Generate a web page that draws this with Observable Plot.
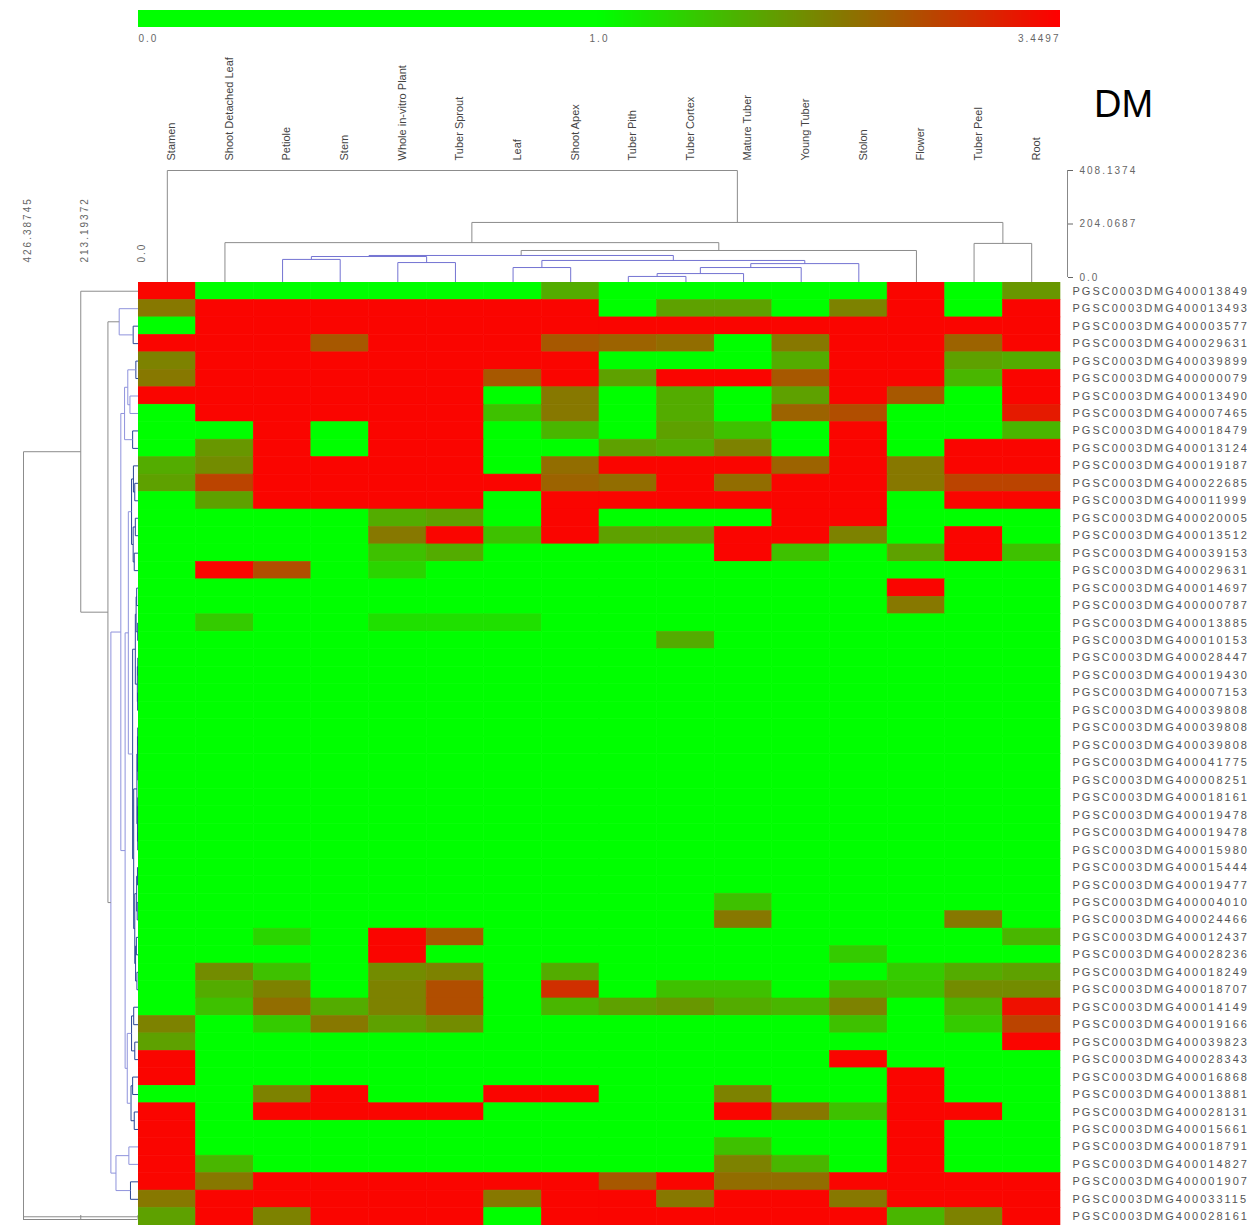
<!DOCTYPE html>
<html><head><meta charset="utf-8">
<script src="https://cdn.jsdelivr.net/npm/d3@7"></script>
<script src="https://cdn.jsdelivr.net/npm/@observablehq/plot@0.6"></script>
<style>
body{margin:0;background:#fff;}
#chart{position:relative;width:1260px;height:1228px;overflow:hidden;background:#fff;font-family:"Liberation Sans",Arial,sans-serif;}
#chart > div{position:absolute;}
#chart svg{background:transparent;max-width:none;}
.heat g[aria-label="y-axis tick label"] text{letter-spacing:2px;}
.topd g[aria-label="y-axis tick label"] text{letter-spacing:2px;}
.leftd g[aria-label="text"] text{letter-spacing:2px;}
.leg .tick text{letter-spacing:2px;}
.leg .tick line{display:none;}
</style></head><body><div id="chart"></div>
<script>
const columns = ["Stamen","Shoot Detached Leaf","Petiole","Stem","Whole in-vitro Plant","Tuber Sprout","Leaf","Shoot Apex","Tuber Pith","Tuber Cortex","Mature Tuber","Young Tuber","Stolon","Flower","Tuber Peel","Root"];

const rowLabels = [
"PGSC0003DMG400013849","PGSC0003DMG400013493","PGSC0003DMG400003577","PGSC0003DMG400029631","PGSC0003DMG400039899",
"PGSC0003DMG400000079","PGSC0003DMG400013490","PGSC0003DMG400007465","PGSC0003DMG400018479","PGSC0003DMG400013124",
"PGSC0003DMG400019187","PGSC0003DMG400022685","PGSC0003DMG400011999","PGSC0003DMG400020005","PGSC0003DMG400013512",
"PGSC0003DMG400039153","PGSC0003DMG400029631","PGSC0003DMG400014697","PGSC0003DMG400000787","PGSC0003DMG400013885",
"PGSC0003DMG400010153","PGSC0003DMG400028447","PGSC0003DMG400019430","PGSC0003DMG400007153","PGSC0003DMG400039808",
"PGSC0003DMG400039808","PGSC0003DMG400039808","PGSC0003DMG400041775","PGSC0003DMG400008251","PGSC0003DMG400018161",
"PGSC0003DMG400019478","PGSC0003DMG400019478","PGSC0003DMG400015980","PGSC0003DMG400015444","PGSC0003DMG400019477",
"PGSC0003DMG400004010","PGSC0003DMG400024466","PGSC0003DMG400012437","PGSC0003DMG400028236","PGSC0003DMG400018249",
"PGSC0003DMG400018707","PGSC0003DMG400014149","PGSC0003DMG400019166","PGSC0003DMG400039823","PGSC0003DMG400028343",
"PGSC0003DMG400016868","PGSC0003DMG400013881","PGSC0003DMG400028131","PGSC0003DMG400015661","PGSC0003DMG400018791",
"PGSC0003DMG400014827","PGSC0003DMG400001907","PGSC0003DMG400033115","PGSC0003DMG400028161"];

// expression values, one row per gene, columns in the order of `columns`
const values = [
[3.4,0.4,0.4,0.4,0.4,0.4,0.4,1.8,0.4,0.4,0.4,0.4,0.4,3.4,0.4,2.0],
[2.3,3.4,3.4,3.4,3.4,3.4,3.4,3.4,0.4,1.9,1.9,0.4,2.2,3.4,0.4,3.4],
[0.4,3.4,3.4,3.4,3.4,3.4,3.4,3.4,3.4,3.4,3.4,3.4,3.4,3.4,3.4,3.4],
[3.4,3.4,3.4,2.6,3.4,3.4,3.4,2.6,2.5,2.4,0.4,2.3,3.4,3.4,2.5,3.4],
[2.2,3.4,3.4,3.4,3.4,3.4,3.4,3.4,0.4,0.4,0.4,1.8,3.4,3.4,1.9,1.8],
[2.3,3.4,3.4,3.4,3.4,3.4,2.6,3.4,1.9,3.4,3.4,2.6,3.4,3.4,1.7,3.4],
[3.4,3.4,3.4,3.4,3.4,3.4,0.4,2.3,0.4,1.8,0.4,1.9,3.4,2.6,0.4,3.4],
[0.4,3.4,3.4,3.4,3.4,3.4,1.6,2.3,0.4,1.8,0.4,2.5,2.7,0.4,0.4,3.2],
[0.4,0.4,3.4,0.4,3.4,3.4,0.4,1.7,0.4,1.9,1.6,0.4,3.4,0.4,0.4,1.7],
[0.4,2.0,3.4,0.4,3.4,3.4,0.4,0.4,1.9,1.8,2.2,0.4,3.4,0.4,3.4,3.4],
[1.8,2.1,3.4,3.4,3.4,3.4,0.4,2.4,3.4,3.4,3.4,2.5,3.4,2.3,3.4,3.4],
[1.9,2.8,3.4,3.4,3.4,3.4,3.4,2.5,2.4,3.4,2.4,3.4,3.4,2.3,2.8,2.8],
[0.4,1.9,3.4,3.4,3.4,3.4,0.4,3.4,3.4,3.4,3.4,3.4,3.4,0.4,3.4,3.4],
[0.4,0.4,0.4,0.4,1.8,1.9,0.4,3.4,0.4,0.4,0.4,3.4,3.4,0.4,0.4,0.4],
[0.4,0.4,0.4,0.4,2.3,3.4,1.6,3.4,1.9,1.9,3.4,3.4,2.2,0.4,3.4,0.4],
[0.4,0.4,0.4,0.4,1.6,1.8,0.4,0.4,0.4,0.4,3.4,1.6,0.4,1.9,3.4,1.6],
[0.4,3.4,2.7,0.4,1.4,0.4,0.4,0.4,0.4,0.4,0.4,0.4,0.4,0.4,0.4,0.4],
[0.4,0.4,0.4,0.4,0.4,0.4,0.4,0.4,0.4,0.4,0.4,0.4,0.4,3.4,0.4,0.4],
[0.4,0.4,0.4,0.4,0.4,0.4,0.4,0.4,0.4,0.4,0.4,0.4,0.4,2.3,0.4,0.4],
[0.4,1.5,0.4,0.4,1.3,1.3,1.3,0.4,0.4,0.4,0.4,0.4,0.4,0.4,0.4,0.4],
[0.4,0.4,0.4,0.4,0.4,0.4,0.4,0.4,0.4,1.8,0.4,0.4,0.4,0.4,0.4,0.4],
[0.4,0.4,0.4,0.4,0.4,0.4,0.4,0.4,0.4,0.4,0.4,0.4,0.4,0.4,0.4,0.4],
[0.4,0.4,0.4,0.4,0.4,0.4,0.4,0.4,0.4,0.4,0.4,0.4,0.4,0.4,0.4,0.4],
[0.4,0.4,0.4,0.4,0.4,0.4,0.4,0.4,0.4,0.4,0.4,0.4,0.4,0.4,0.4,0.4],
[0.4,0.4,0.4,0.4,0.4,0.4,0.4,0.4,0.4,0.4,0.4,0.4,0.4,0.4,0.4,0.4],
[0.4,0.4,0.4,0.4,0.4,0.4,0.4,0.4,0.4,0.4,0.4,0.4,0.4,0.4,0.4,0.4],
[0.4,0.4,0.4,0.4,0.4,0.4,0.4,0.4,0.4,0.4,0.4,0.4,0.4,0.4,0.4,0.4],
[0.4,0.4,0.4,0.4,0.4,0.4,0.4,0.4,0.4,0.4,0.4,0.4,0.4,0.4,0.4,0.4],
[0.4,0.4,0.4,0.4,0.4,0.4,0.4,0.4,0.4,0.4,0.4,0.4,0.4,0.4,0.4,0.4],
[0.4,0.4,0.4,0.4,0.4,0.4,0.4,0.4,0.4,0.4,0.4,0.4,0.4,0.4,0.4,0.4],
[0.4,0.4,0.4,0.4,0.4,0.4,0.4,0.4,0.4,0.4,0.4,0.4,0.4,0.4,0.4,0.4],
[0.4,0.4,0.4,0.4,0.4,0.4,0.4,0.4,0.4,0.4,0.4,0.4,0.4,0.4,0.4,0.4],
[0.4,0.4,0.4,0.4,0.4,0.4,0.4,0.4,0.4,0.4,0.4,0.4,0.4,0.4,0.4,0.4],
[0.4,0.4,0.4,0.4,0.4,0.4,0.4,0.4,0.4,0.4,0.4,0.4,0.4,0.4,0.4,0.4],
[0.4,0.4,0.4,0.4,0.4,0.4,0.4,0.4,0.4,0.4,0.4,0.4,0.4,0.4,0.4,0.4],
[0.4,0.4,0.4,0.4,0.4,0.4,0.4,0.4,0.4,0.4,1.6,0.4,0.4,0.4,0.4,0.4],
[0.4,0.4,0.4,0.4,0.4,0.4,0.4,0.4,0.4,0.4,2.3,0.4,0.4,0.4,2.3,0.4],
[0.4,0.4,1.4,0.4,3.4,2.6,0.4,0.4,0.4,0.4,0.4,0.4,0.4,0.4,0.4,1.7],
[0.4,0.4,0.4,0.4,3.4,0.4,0.4,0.4,0.4,0.4,0.4,0.4,1.5,0.4,0.4,0.4],
[0.4,2.1,1.6,0.4,2.1,2.2,0.4,1.8,0.4,0.4,0.4,0.4,0.4,1.5,1.8,1.9],
[0.4,1.8,2.2,0.4,2.2,2.7,0.4,3.0,0.4,1.6,1.6,0.4,1.7,1.6,2.1,2.1],
[0.4,1.6,2.4,1.8,2.2,2.7,0.4,1.7,1.9,2.0,1.8,1.7,2.2,0.4,1.7,3.3],
[2.2,0.4,1.5,2.3,1.9,2.1,0.4,0.4,0.4,0.4,0.4,0.4,1.6,0.4,1.5,2.8],
[1.9,0.4,0.4,0.4,0.4,0.4,0.4,0.4,0.4,0.4,0.4,0.4,0.4,0.4,0.4,3.4],
[3.4,0.4,0.4,0.4,0.4,0.4,0.4,0.4,0.4,0.4,0.4,0.4,3.4,0.4,0.4,0.4],
[3.4,0.4,0.4,0.4,0.4,0.4,0.4,0.4,0.4,0.4,0.4,0.4,0.4,3.4,0.4,0.4],
[0.4,0.4,2.2,3.4,0.4,0.4,3.4,3.4,0.4,0.4,2.2,0.4,0.4,3.4,0.4,0.4],
[3.4,0.4,3.4,3.4,3.4,3.4,0.4,0.4,0.4,0.4,3.4,2.3,1.6,3.4,3.4,0.4],
[3.4,0.4,0.4,0.4,0.4,0.4,0.4,0.4,0.4,0.4,0.4,0.4,0.4,3.4,0.4,0.4],
[3.4,0.4,0.4,0.4,0.4,0.4,0.4,0.4,0.4,0.4,1.6,0.4,0.4,3.4,0.4,0.4],
[3.4,1.7,0.4,0.4,0.4,0.4,0.4,0.4,0.4,0.4,2.2,1.7,0.4,3.4,0.4,0.4],
[3.4,2.3,3.4,3.4,3.4,3.4,3.4,3.4,2.6,3.4,2.4,2.4,3.4,3.4,3.4,3.4],
[2.3,3.4,3.4,3.4,3.4,3.4,2.3,3.4,3.4,2.3,3.4,3.4,2.3,3.4,3.4,3.4],
[1.9,3.4,2.2,3.4,3.4,3.4,0.4,3.4,3.4,3.4,3.4,3.4,3.4,1.7,2.2,3.4]];

const colorStops = [0, 1, 3.4497];
const colorRange = ["#00ff00", "#00ff00", "#ff0000"];
const legendLabels = ["0.0", "1.0", "3.4497"];

// column dendrogram: leaf = column index, node = [left, right, height]
const colTree = [0,
  [[1, [[[[2, 3, 69], [4, 5, 57], 80],
         [[6, 7, 38], [[[[8, 9, 4], 10, 15], 11, 38], 12, 53], 65], 84], 13, 103], 133],
   [14, 15, 130], 210],
  408.1374];
const colAxisTicks = [0, 204.0687, 408.1374];
const colAxisLabels = ["0.0", "204.0687", "408.1374"];

// row dendrogram: leaf = row index, node = [left, right, height]
const rowGreen = [[[[[13, 14, 4], [15, 16, 6], 9], [[17, 18, 3], [19, 20, 2], 5], 12],
                   [[[21, 22, 1], [23, 24, 1], 2], [[25, 26, 0.5], [27, 28, 1], 2], 4], 16],
                  [[[29, 30, 1.5], [31, 32, 0.8], 2.5], [[33, 34, 1.2], [35, 36, 5], 7], 10], 20];
const rowOlive = [[[37, 38, 14], [39, 40, 10], 18], [[41, 42, 12], 43, 17], 24];
const rowUpper = [[[5, 6, 14], [7, 8, 20], 26], [[9, 10, 12], [11, 12, 16], 24], 40];
const rowLower = [[44, 45, 20], [[46, 47, 30], [48, 49, 8], 38], 50];
const rowTree = [0,
  [[[[[1, 2, 28], [3, 4, 34], 82],
     [[rowUpper, [rowGreen, rowOlive, 36], 48], rowLower, 64], 101],
    [[50, 51, 18], 52, 70], 112], 53, 213.19372],
  426.38745];
const rowAxisTicks = [0, 213.19372, 426.38745];
const rowAxisLabels = ["0.0", "213.19372", "426.38745"];

function treeSegments(tree, leafH) {
  const segs = [];
  function walk(node) {
    if (typeof node === "number") return {p: node, h: leafH};
    const [a, b, h] = node;
    const A = walk(a), B = walk(b);
    segs.push({p1: A.p, h1: A.h, p2: A.p, h2: h, h});
    segs.push({p1: B.p, h1: B.h, p2: B.p, h2: h, h});
    segs.push({p1: A.p, h1: h, p2: B.p, h2: h, h});
    return {p: (A.p + B.p) / 2, h};
  }
  walk(tree);
  return segs;
}

const chart = document.getElementById("chart");
function place(el, cls, left, top) {
  const d = document.createElement("div");
  d.className = cls; d.style.left = left + "px"; d.style.top = top + "px";
  d.appendChild(el); chart.appendChild(d); return d;
}
const font = "Liberation Sans, Arial, sans-serif";

// colour legend
const legend = Plot.legend({
  color: {type: "linear", domain: colorStops, range: colorRange, interpolate: "rgb"},
  width: 942, height: 48, marginLeft: 10, marginRight: 10, marginTop: 10, marginBottom: 21,
  ticks: colorStops, tickFormat: d => legendLabels[colorStops.indexOf(d)], tickSize: 5, label: null,
  style: {fontFamily: font, fontSize: "10px", color: "#666", background: "transparent"}
});
place(legend, "leg", 128, 0);
const lt = legend.querySelectorAll(".tick text");
if (lt.length) { lt[0].setAttribute("text-anchor", "start"); lt[lt.length - 1].setAttribute("text-anchor", "end"); }

// column dendrogram + labels
const colSegs = treeSegments(colTree, -6 * colAxisTicks[2] / 107);
const topPlot = Plot.plot({
  width: 1260, height: 283, marginLeft: 138, marginRight: 200, marginTop: 170, marginBottom: 0,
  x: {domain: [-0.5, columns.length - 0.5], axis: null},
  y: {domain: [-6 * colAxisTicks[2] / 107, colAxisTicks[2]]},
  style: {fontFamily: font, background: "transparent", overflow: "visible"},
  marks: [
    Plot.link(colSegs.filter(d => d.h < 100), {x1: "p1", y1: "h1", x2: "p2", y2: "h2", stroke: "#7373d2", strokeWidth: 1}),
    Plot.link(colSegs.filter(d => d.h >= 100), {x1: "p1", y1: "h1", x2: "p2", y2: "h2", stroke: "#8c8c8c", strokeWidth: 1}),
    Plot.text(columns, {x: (d, i) => i, frameAnchor: "top", text: d => d, rotate: -90, textAnchor: "start", dy: -10, fontSize: 11, fill: "#444"}),
    Plot.ruleX([columns.length - 0.5], {y1: 0, y2: colAxisTicks[2], dx: 7, stroke: "#888"}),
    Plot.axisY({anchor: "right", ticks: colAxisTicks, tickFormat: d => colAxisLabels[colAxisTicks.indexOf(d)], tickSize: 5, tickPadding: 7, dx: 7, fontSize: 10, color: "#666", label: null})
  ]
});
place(topPlot, "topd", 0, 0);

// row dendrogram
const rowSegs = treeSegments(rowTree, 0);
const leftPlot = Plot.plot({
  width: 145, height: 1228, marginLeft: 23, marginRight: 7.5, marginTop: 282, marginBottom: 3,
  x: {domain: [rowAxisTicks[2], 0], axis: null},
  y: {domain: [-0.5, rowLabels.length - 0.5], axis: null},
  style: {fontFamily: font, background: "transparent", overflow: "visible"},
  marks: [
    Plot.link(rowSegs.filter(d => d.h < 30), {x1: "h1", y1: "p1", x2: "h2", y2: "p2", stroke: "#2b4796", strokeWidth: 1}),
    Plot.link(rowSegs.filter(d => d.h >= 30 && d.h < 105), {x1: "h1", y1: "p1", x2: "h2", y2: "p2", stroke: "#8f93dc", strokeWidth: 1}),
    Plot.link(rowSegs.filter(d => d.h >= 105), {x1: "h1", y1: "p1", x2: "h2", y2: "p2", stroke: "#8c8c8c", strokeWidth: 1}),
    Plot.ruleY([-0.5], {x1: rowAxisTicks[2], x2: 0, dy: -6, stroke: "#888"}),
    Plot.ruleX(rowAxisTicks, {x: d => d, y1: -0.5, y2: -0.5, insetTop: -4, dy: -6, stroke: "#888"}),
    Plot.text(rowAxisTicks, {x: d => d, frameAnchor: "top", text: d => rowAxisLabels[rowAxisTicks.indexOf(d)], rotate: -90, textAnchor: "start", dy: -20, fontSize: 10, fill: "#666"})
  ]
});
place(leftPlot, "leftd", 0, 0);

// heatmap + row labels
const cells = values.flatMap((row, r) => row.map((v, c) => ({row: r, col: columns[c], value: v})));
const heat = Plot.plot({
  width: 1122, height: 943, marginLeft: 0, marginRight: 200, marginTop: 0, marginBottom: 0,
  x: {domain: columns, padding: 0, round: false, axis: null},
  y: {domain: rowLabels.map((_, i) => i), padding: 0, round: false},
  color: {type: "linear", domain: colorStops, range: colorRange, interpolate: "rgb"},
  style: {fontFamily: font, background: "transparent"},
  marks: [
    Plot.cell(cells, {x: "col", y: "row", fill: "value", stroke: "value", strokeWidth: 0.6}),
    Plot.axisY({anchor: "right", tickSize: 0, tickPadding: 12, tickFormat: i => rowLabels[i], fontSize: 11, color: "#555", label: null})
  ]
});
place(heat, "heat", 138, 282);

// big title
const dm = document.createElement("div");
dm.textContent = "DM";
Object.assign(dm.style, {left: "1094px", top: "85px", fontSize: "38px", lineHeight: "38px", fontFamily: font, color: "#000"});
chart.appendChild(dm);
</script>
</body></html>
